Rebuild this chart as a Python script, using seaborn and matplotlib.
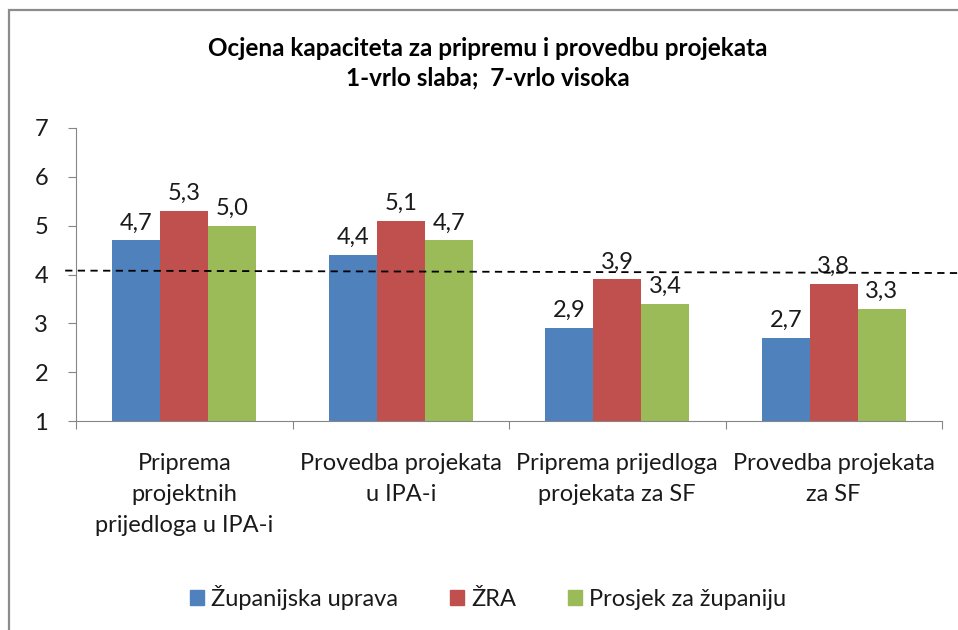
import matplotlib
matplotlib.use("Agg")
import matplotlib.pyplot as plt
import matplotlib.patches as mpatches
import seaborn as sns
import pandas as pd

categories = ["Priprema\nprojektnih\nprijedloga u IPA-i",
              "Provedba projekata\nu IPA-i",
              "Priprema prijedloga\nprojekata za SF",
              "Provedba projekata\nza SF"]
series_names = ["Županijska uprava", "ŽRA", "Prosjek za županiju"]
zupanijska = [4.7, 4.4, 2.9, 2.7]
zra = [5.3, 5.1, 3.9, 3.8]
prosjek = [5.0, 4.7, 3.4, 3.3]
ref_line = [4.08, 4.03]
yticks = [1, 2, 3, 4, 5, 6, 7]
title = "Ocjena kapaciteta za pripremu i provedbu projekata\n1-vrlo slaba;  7-vrlo visoka"
colors = ["#4F81BD", "#C0504D", "#9BBB59"]

rows = []
for name, vals in zip(series_names, [zupanijska, zra, prosjek]):
    for c, v in zip(categories, vals):
        rows.append({"cat": c, "series": name, "value": v})
df = pd.DataFrame(rows)

sns.set_theme(style="white")
plt.rcParams["font.family"] = ["Lato", "DejaVu Sans"]
text_color = "#1a1a1a"
fs = 17

fig = plt.figure(figsize=(9.58, 6.3), dpi=100)
ax = fig.add_axes([76/958, 1-421/630, (942-76)/958, (421-128)/630])

sns.barplot(data=df, x="cat", y="value", hue="series", hue_order=series_names,
            palette=colors, width=0.664, gap=0, saturation=1, ax=ax,
            legend=False, edgecolor="none")

for cont in ax.containers:
    labs = [f"{b.get_height():.1f}".replace(".", ",") for b in cont]
    ax.bar_label(cont, labels=labs, padding=5, fontsize=fs, color=text_color)

ax.set_ylim(yticks[0], yticks[-1])
ax.set_xlim(-0.5, len(categories) - 0.5)
ax.set_yticks(yticks)
ax.set_yticklabels([str(t) for t in yticks], fontsize=fs, color=text_color)
ax.tick_params(axis="y", length=6, width=0.8, color="#868686", pad=14, left=True, direction="out")

bounds = [i - 0.5 for i in range(len(categories) + 1)]
ax.set_xticks(bounds)
ax.set_xticklabels([""] * len(bounds))
ax.tick_params(axis="x", which="major", length=6, width=0.8, color="#868686", bottom=True, direction="out")
ax.set_xticks(range(len(categories)), minor=True)
ax.set_xticklabels(categories, minor=True, fontsize=fs, color=text_color, linespacing=1.6)
ax.tick_params(axis="x", which="minor", length=0, pad=23)
ax.set_xlabel("")
ax.set_ylabel("")

for s in ["top", "right"]:
    ax.spines[s].set_visible(False)
for s in ["left", "bottom"]:
    ax.spines[s].set_color("#868686")
    ax.spines[s].set_linewidth(0.8)

ax.plot([-0.55, 3.57], ref_line, color="black", linestyle=(0, (4, 3)), linewidth=1.3, clip_on=False, zorder=5)

fig.text(488/958, 1-63/630, title, ha="center", va="center", fontsize=17.5,
         fontweight="bold", color="black", linespacing=1.35)

handles = [mpatches.Patch(color=c, label=n) for c, n in zip(colors, series_names)]
fig.legend(handles=handles, loc="center", bbox_to_anchor=(488/958, 1-597/630), ncol=3,
           frameon=False, fontsize=fs, handlelength=0.6, handleheight=0.6,
           handletextpad=0.3, columnspacing=2.2, labelcolor=text_color)

border = mpatches.Rectangle((9/958, -0.2), 1.2, 1-10/630 + 0.2, transform=fig.transFigure,
                            fill=False, edgecolor="#8c8c8c", linewidth=1.6, clip_on=False)
fig.add_artist(border)

fig.savefig("out.png", dpi=100, facecolor="white")
